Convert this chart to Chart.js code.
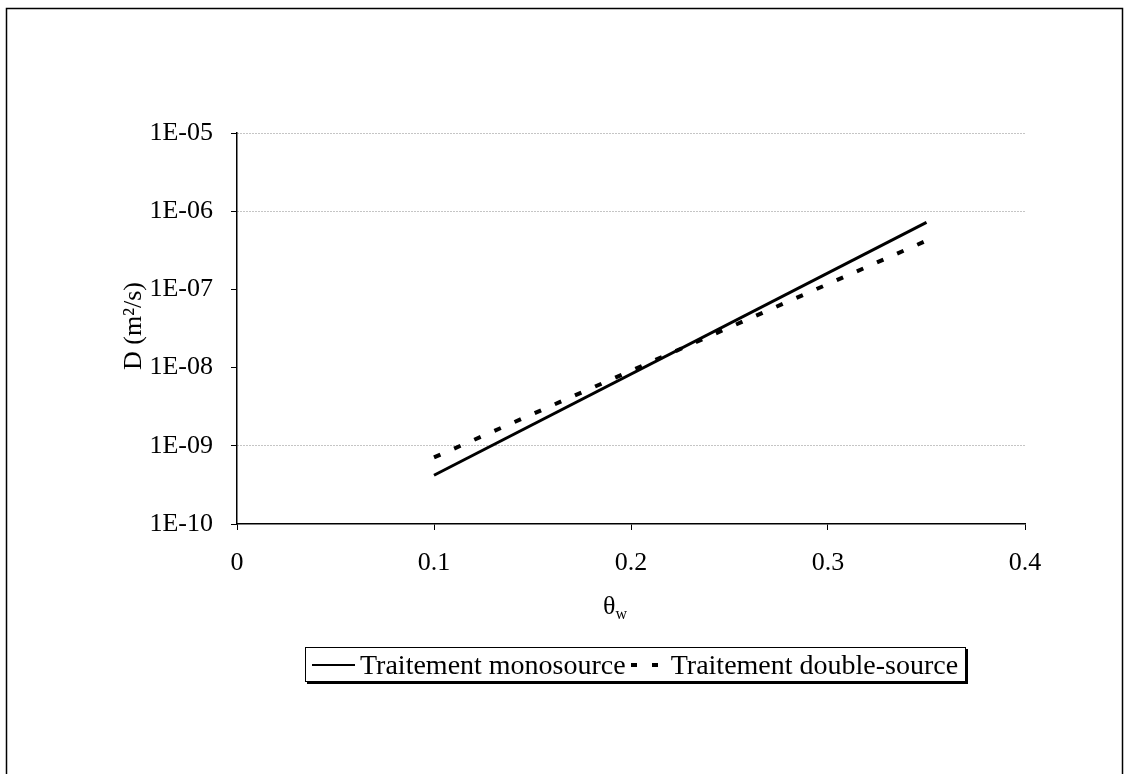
<!DOCTYPE html>
<html>
<head>
<meta charset="utf-8">
<script src="https://cdn.jsdelivr.net/npm/chart.js@4"></script>
<style>
  html, body { margin: 0; padding: 0; background: #fff; }
  #wrap { position: relative; width: 1125px; height: 774px; }
  #chart { position: absolute; left: 0; top: 0; }
  .serif { font-family: "Liberation Serif", "DejaVu Serif", serif; color: #000; }
  #xTitle { position: absolute; left: 570px; top: 591px; width: 90px; text-align: center; font-size: 26px; }
  #xTitle sub { font-size: 16px; vertical-align: -5px; }
  #legend { position: absolute; left: 305px; top: 647px; width: 659px; height: 33px;
    border: 1px solid #000; box-shadow: 2px 2px 0 #000; display: flex; align-items: center;
    white-space: nowrap; font-size: 28px; overflow: hidden; }
  .sw { display: inline-block; flex-shrink: 0; }
</style>
</head>
<body>
<div id="wrap">
  <canvas id="chart" width="1125" height="774"></canvas>
  <div id="xTitle" class="serif">θ<sub>w</sub></div>
  <div id="legend" class="serif"></div>
</div>
<script>
// Data
const xTheta = [0.1, 0.35];
const monoD = [4.2e-10, 7.2e-7];
const doubleD = [7.1e-10, 4.2e-7];
const seriesNames = ["Traitement monosource", "Traitement double-source"];

const xTickValues = [0, 0.1, 0.2, 0.3, 0.4];
const xTickLabels = ["0", "0.1", "0.2", "0.3", "0.4"];
const yTickValues = [1e-10, 1e-9, 1e-8, 1e-7, 1e-6, 1e-5];
const yTickLabels = ["1E-10", "1E-09", "1E-08", "1E-07", "1E-06", "1E-05"];
// gridlines that show in the scan
const yGridShown = [1e-9, 1e-6, 1e-5];

const serif = "'Liberation Serif', 'DejaVu Serif', serif";
const toPts = (xs, ys) => xs.map((x, i) => ({ x: x, y: ys[i] }));
const near = (a, b) => Math.abs(Math.log10(a) - Math.log10(b)) < 1e-6;

// outer frame + rotated y title
const decor = {
  id: "decor",
  afterDraw(chart) {
    const c = chart.ctx;
    c.save();
    c.strokeStyle = "#000";
    c.lineWidth = 1.5;
    c.strokeRect(6.5, 8.5, 1116, 800);
    c.translate(134, 326);
    c.rotate(-Math.PI / 2);
    c.fillStyle = "#000";
    c.font = "26px " + serif;
    c.textAlign = "center";
    c.textBaseline = "middle";
    c.fillText("D (m²/s)", 0, 0);
    c.restore();
  }
};

new Chart(document.getElementById("chart").getContext("2d"), {
  type: "line",
  data: {
    datasets: [{
      label: seriesNames[0],
      data: toPts(xTheta, monoD),
      borderColor: "#000",
      borderWidth: 3,
      pointRadius: 0,
      fill: false
    }, {
      label: seriesNames[1],
      data: toPts(xTheta, doubleD),
      borderColor: "#000",
      borderWidth: 4,
      borderDash: [7, 15],
      pointRadius: 0,
      fill: false
    }]
  },
  options: {
    responsive: false,
    animation: false,
    layout: { padding: { left: 0, top: 133, right: 100, bottom: 0 } },
    plugins: { legend: { display: false }, tooltip: { enabled: false } },
    scales: {
      x: {
        type: "linear",
        min: 0,
        max: 0.4,
        afterBuildTicks: (s) => { s.ticks = xTickValues.map(v => ({ value: v })); },
        afterFit: (s) => { s.height = 250; },
        ticks: {
          color: "#000",
          font: { family: serif, size: 26 },
          padding: 18,
          maxRotation: 0,
          callback: (v, i) => xTickLabels[i]
        },
        grid: { drawOnChartArea: false, tickLength: 6, tickColor: "#000" },
        border: { color: "#000", width: 1.5 }
      },
      y: {
        type: "logarithmic",
        min: 1e-10,
        max: 1e-5,
        afterBuildTicks: (s) => { s.ticks = yTickValues.map(v => ({ value: v, major: true })); },
        afterFit: (s) => { s.width = 237; },
        ticks: {
          color: "#000",
          font: { family: serif, size: 26 },
          padding: 18,
          callback: (v) => {
            const i = yTickValues.findIndex(t => near(t, v));
            return i >= 0 ? yTickLabels[i] : "";
          }
        },
        grid: {
          color: (ctx) => (ctx.tick && yGridShown.some(t => near(t, ctx.tick.value))) ? "#8a8a8a" : "rgba(0,0,0,0)",
          tickColor: "#000",
          tickLength: 6,
          tickBorderDash: [],
          lineWidth: 1
        },
        border: { color: "#000", width: 1.5, dash: [1, 2] }
      }
    }
  },
  plugins: [decor]
});

// legend as real text
const legend = document.getElementById("legend");
legend.innerHTML =
  '<span class="sw" style="width:43px;height:2px;background:#000;margin:0 5px 0 6px;"></span>' +
  '<span>' + seriesNames[0] + '</span>' +
  '<span class="sw" style="width:28px;height:4px;margin:0 12px 0 5px;' +
  'background:linear-gradient(90deg,#000 0 6px,transparent 6px 21px,#000 21px 27px,transparent 27px);"></span>' +
  '<span>' + seriesNames[1] + '</span>';
</script>
</body>
</html>
